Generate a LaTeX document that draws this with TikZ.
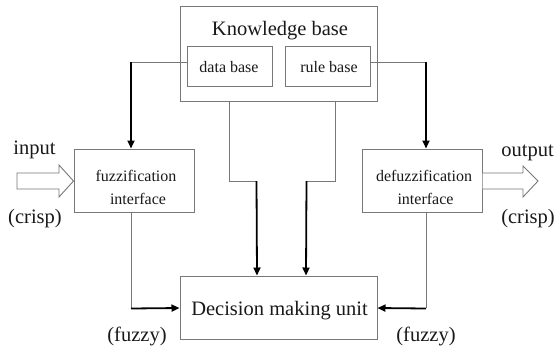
\documentclass[tikz,border=0pt]{standalone}
\usepackage{fontspec}
\setmainfont{Liberation Serif}
\usetikzlibrary{arrows.meta}
\definecolor{edge}{RGB}{120,120,120}
\definecolor{ink}{RGB}{25,25,25}
\begin{document}
\begin{tikzpicture}[x=1pt,y=-1pt,
  box/.style={draw=edge,line width=1pt,inner sep=0pt,text=ink},
  bigtext/.style={font=\fontsize{20.5}{22}\selectfont,text=ink,inner sep=0pt},
  smalltext/.style={font=\fontsize{16}{19}\selectfont,text=ink,inner sep=0pt},
  link/.style={draw=edge,line width=1pt},
  feed/.style={draw=black,line width=1.8pt,-{Triangle[length=8pt,width=7pt]}},
  hollow/.style={draw=edge,line width=0.9pt,fill=white,line join=miter}]
\useasboundingbox (0,0) rectangle (556,349);
\fill[white] (0,0) rectangle (556,349);

% blocks
\node[box,minimum width=197pt,minimum height=95pt] (kb) at (278.5,53.5) {};
\node[bigtext,anchor=base] (kbt) at (280,35) {Knowledge base};
\node[box,minimum width=85pt,minimum height=40pt] (db) at (229.5,66) {};
\node[smalltext,anchor=base] (dbt) at (229,72) {data base};
\node[box,minimum width=85pt,minimum height=40pt] (rb) at (327.5,66) {};
\node[smalltext,anchor=base] (rbt) at (329,72) {rule base};

\node[box,minimum width=120pt,minimum height=63pt] (fz) at (134,180.5) {};
\node[smalltext,anchor=base] (fzt1) at (136,181) {fuzzification};
\node[smalltext,anchor=base] (fzt2) at (138,204) {interface};

\node[box,minimum width=120pt,minimum height=63pt] (dfz) at (422,180.5) {};
\node[smalltext,anchor=base] (dfzt1) at (424,181) {defuzzification};
\node[smalltext,anchor=base] (dfzt2) at (425.5,204) {interface};

\node[box,minimum width=197pt,minimum height=63pt] (dm) at (278.5,307.5) {};
\node[bigtext,anchor=base] (dmt) at (279.5,315) {Decision making unit};

% labels
\node[bigtext,anchor=base] (inl) at (34.5,154) {input};
\node[bigtext,anchor=base] (incr) at (35,223) {(crisp)};
\node[bigtext,anchor=base] (outl) at (527.5,156) {output};
\node[bigtext,anchor=base] (outcr) at (528,223) {(crisp)};
\node[bigtext,anchor=base] (fzl) at (137,341) {(fuzzy)};
\node[bigtext,anchor=base] (fzr) at (426,341) {(fuzzy)};

% hollow input / output arrows
\draw[hollow] (17,173) -- (59,173) -- (59,165) -- (fz.west |- 0,181) -- (59,197) -- (59,189) -- (17,189) -- cycle;
\draw[hollow] (dfz.east |- 0,173) -- (523,173) -- (523,166) -- (538,181) -- (523,197) -- (523,189) -- (dfz.east |- 0,189);

% knowledge base to the interfaces
\coordinate (c1) at (131,62);
\coordinate (c2) at (426,62);
\draw[link] ([yshift=4pt]db.west) -- (c1);
\draw[feed] (c1) -- (c1 |- fz.north);
\draw[link] ([yshift=4pt]rb.east) -- (c2);
\draw[feed] (c2) -- (c2 |- dfz.north);

% knowledge base to the decision unit
\coordinate (c3) at (229,181);
\coordinate (c4) at (257,181);
\coordinate (c5) at (335,181);
\coordinate (c6) at (306,181);
\draw[link] (c3 |- kb.south) -- (c3) -- (c4);
\draw[feed] ([xshift=-0.5pt]c4) -- (c4 |- dm.north);
\draw[link] (c5 |- kb.south) -- (c5) -- (c6);
\draw[feed] ([xshift=0.5pt]c6) -- (c6 |- dm.north);

% interfaces to the decision unit
\coordinate (c7) at (131,308);
\coordinate (c8) at (426,308);
\draw[link] (c7 |- fz.south) -- (c7);
\draw[feed] ([yshift=-0.5pt]c7) -- (c7 -| dm.west);
\draw[link] (c8 |- dfz.south) -- (c8);
\draw[feed] ([yshift=-0.5pt]c8) -- (c8 -| dm.east);
\end{tikzpicture}
\end{document}
